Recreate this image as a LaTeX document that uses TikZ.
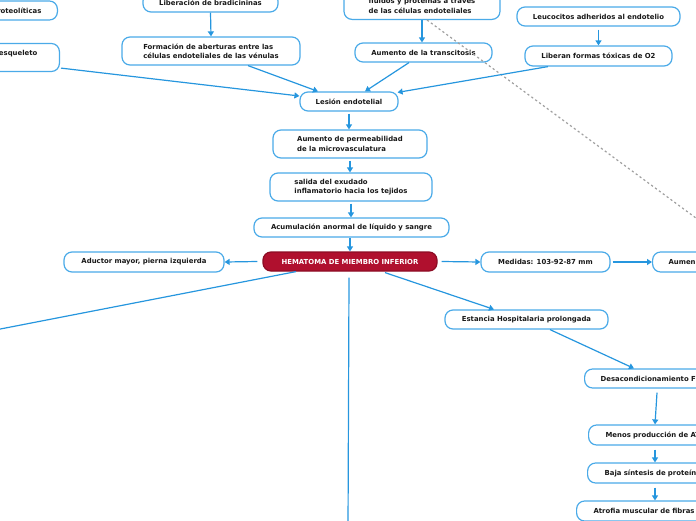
\documentclass[tikz,border=0pt]{standalone}
\usepackage{fontspec}
\setmainfont{DejaVu Sans}
\usetikzlibrary{arrows.meta,calc}
\definecolor{boxblue}{RGB}{74,170,232}
\definecolor{lineblue}{RGB}{38,150,222}
\definecolor{hemared}{RGB}{176,16,46}
\definecolor{hemaedge}{RGB}{140,12,36}
\definecolor{txt}{RGB}{25,25,25}
\begin{document}
\begin{tikzpicture}[x=1pt,y=-1pt,
  box/.style={draw=boxblue, line width=1.2pt, rounded corners=8pt, fill=white, text=txt,
    font=\fontsize{6.9}{9.3}\selectfont\bfseries, align=left, inner xsep=4pt, inner ysep=2pt,
    minimum height=19pt},
  twoline/.style={minimum height=28pt},
  hema/.style={box, fill=hemared, draw=hemaedge, text=white},
  conn/.style={draw=lineblue, line width=1.2pt, -{Triangle[length=5pt,width=6pt]}},
  plainline/.style={draw=lineblue, line width=1.2pt},
  dashline/.style={draw=gray!75, line width=1.2pt, dash pattern=on 2.2pt off 2.6pt}]
\useasboundingbox (0,0) rectangle (696,520);
\clip (0,0) rectangle (696,520);

% nodes
\node[box, anchor=east, text width=80pt, align=right, inner xsep=16pt] (prot) at (58,10.5) {roteolíticas};
\node[box, twoline, anchor=east, text width=80pt, align=right, inner xsep=22pt] (esq) at (60,57.5) {esqueleto\\\mbox{}};
\node[box, minimum width=135pt] (brad) at (210.5,2.5) {Liberación de bradicininas};
\node[box, twoline, minimum width=178pt] (form) at (211,51) {Formación de aberturas entre las\\células endoteliales de las vénulas};
\node[box, minimum width=156pt, minimum height=31pt, anchor=south] (fluid) at (422,20) {\mbox{}\\fluidos y proteínas a través\\de las células endoteliales};
\node[box, minimum width=137pt] (trans) at (423.5,52.5) {Aumento de la transcitosis};
\node[box, minimum width=163pt] (leuc) at (598.5,16.5) {Leucocitos adheridos al endotelio};
\node[box, minimum width=147pt, minimum height=20pt] (liber) at (598.5,56) {Liberan formas tóxicas de O2};
\node[box, minimum width=98pt] (lesion) at (349,101.5) {Lesión endotelial};
\node[box, twoline, minimum width=154pt] (perm) at (350,144) {Aumento de permeabilidad\\de la microvasculatura};
\node[box, twoline, minimum width=162pt] (salida) at (351,187) {salida del exudado\\inflamatorio hacia los tejidos};
\node[box, minimum width=195pt] (acum) at (351.5,227.5) {Acumulación anormal de líquido y sangre};
\node[hema, minimum width=174pt] (hema) at (350,261.5) {HEMATOMA DE MIEMBRO INFERIOR};
\node[box, minimum width=160pt, minimum height=20pt] (aduc) at (144,262) {Aductor mayor, pierna izquierda};
\node[box, minimum width=129pt, minimum height=20pt] (medidas) at (545.5,262) {Medidas: 103-92-87 mm};
\node[box, anchor=west, text width=120pt, inner xsep=16pt, minimum height=20pt] (aumen) at (652,262) {Aumen};
\node[box, minimum width=163pt] (estancia) at (526.5,319.5) {Estancia Hospitalaria prolongada};
\node[box, anchor=west, text width=140pt, inner xsep=16pt] (desac) at (584,378.5) {Desacondicionamiento F};
\node[box, anchor=west, text width=140pt, inner xsep=17pt, minimum height=20pt] (menos) at (588,435) {Menos producción de AT};
\node[box, anchor=west, text width=140pt, inner xsep=17pt, minimum height=20pt] (baja) at (587,473) {Baja síntesis de proteín};
\node[box, anchor=west, text width=140pt, inner xsep=17pt, minimum height=20pt] (atrofia) at (576,511) {Atrofia muscular de fibras};

\coordinate (dashEnd) at (700,221);
\coordinate (offL) at (-10,331);
\coordinate (offD) at (348,530);

% connectors
\draw[dashline] ($(fluid.south)+(5,0)$) -- (dashEnd);
\draw[conn] (brad.south) -- (form.north);
\draw[conn] ($(form.south)+(37,0)$) -- ($(lesion.north)+(-31,0)$);
\draw[conn] ($(esq.south east)+(1,-4)$) -- ($(lesion.west)+(0,-5.5)$);
\draw[conn] (fluid.south) -- (fluid.south |- trans.north);
\draw[conn] ($(trans.south)+(-14.5,0)$) -- ($(lesion.north)+(16,0)$);
\draw[conn] ($(leuc.south)+(0,3)$) -- (liber.north);
\draw[conn] ($(liber.south)+(-50.5,0)$) -- ($(lesion.north east)+(-1,1)$);
\draw[conn] ($(lesion.south)+(0,2)$) -- (lesion.south |- perm.north);
\draw[conn] ($(perm.south)+(0,2)$) -- (perm.south |- salida.north);
\draw[conn] ($(salida.south)+(0,2)$) -- (salida.south |- acum.north);
\draw[conn] ($(acum.south)+(-1.5,0)$) -- ($(hema.north)+(0,0)$);
\draw[conn] ($(hema.west)+(-5,0)$) -- (aduc.east);
\draw[conn] ($(hema.east)+(4,0)$) -- (medidas.west);
\draw[conn] ($(medidas.east)+(2,0)$) -- (aumen.west);
\draw[plainline] ($(hema.south)+(-54,0)$) -- (offL);
\draw[plainline] ($(hema.south)+(-1,6)$) -- (offD);
\draw[conn] ($(hema.south)+(35,1)$) -- ($(estancia.north)+(-32.5,0)$);
\draw[conn] ($(estancia.south)+(23.5,0)$) -- ($(desac.north west)+(50,0)$);
\draw[conn] ($(desac.south west)+(73,4)$) -- ($(menos.north west)+(67,0)$);
\draw[conn] ($(menos.south west)+(67,4)$) -- ($(baja.north west)+(68,0)$);
\draw[conn] ($(baja.south west)+(68,4)$) -- ($(atrofia.north west)+(79,0)$);
\end{tikzpicture}
\end{document}
